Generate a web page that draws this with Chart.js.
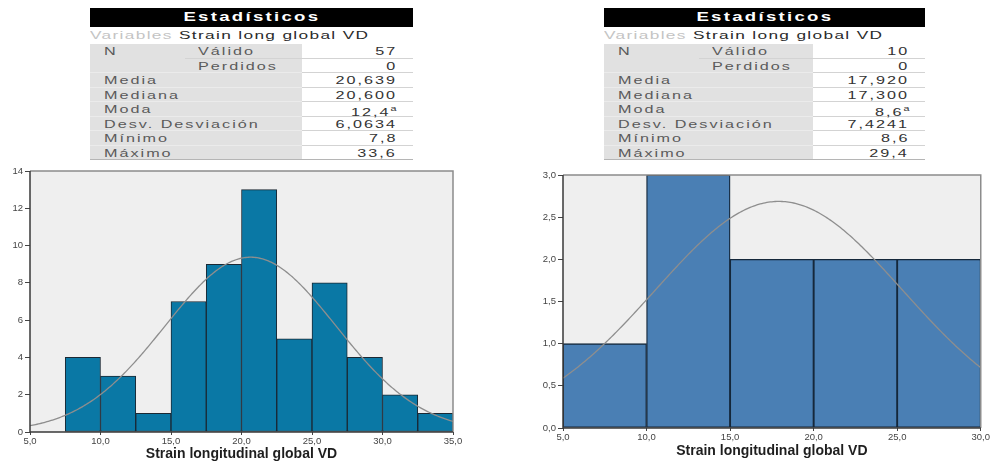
<!DOCTYPE html>
<html lang="es">
<head>
<meta charset="utf-8">
<script src="https://cdn.jsdelivr.net/npm/chart.js@4.4.1/dist/chart.umd.min.js"></script>
<style>
  html, body { margin: 0; padding: 0; background: #fff; }
  body { width: 991px; height: 463px; position: relative; overflow: hidden;
         font-family: "Liberation Sans", Arial, sans-serif; }
  .stats { position: absolute; top: 8px; }
  .stats .head { height: 18.5px; background: #000; color: #fff; font-weight: bold;
                 font-size: 13px; letter-spacing: 1.6px; text-align: center; line-height: 18.5px; }
  .stats .head span { display: inline-block; transform: scaleX(1.43); }
  .stats .var { height: 17.5px; line-height: 16px; font-size: 11.5px; letter-spacing: 0.9px;
                color: #2a2a2a; white-space: nowrap; }
  .stats .var > span { display: inline-block; transform: scaleX(1.5); transform-origin: 0 50%; }
  .stats .var i { font-style: normal; color: #c4c4c4; }
  .row { position: relative; height: 14.5px; }
  .row .g { position: absolute; left: 0; top: 0; bottom: 0; background: #e1e1e1; }
  .row .ln { position: absolute; right: 0; bottom: 0; height: 1px; background: #d3d3d3; }
  .row .lnl { position: absolute; left: 0; bottom: 0; height: 1px; background: #ebebeb; }
  .row.last .ln { height: 1.5px; background: #b5b5b5; }
  .row.last .lnl { height: 1.5px; background: #b5b5b5; }
  .t { position: absolute; top: 0; line-height: 14px; font-size: 10.5px; letter-spacing: 1.3px;
       white-space: nowrap; transform: scaleX(1.54); }
  .t.l { color: #5a5a5a; transform-origin: 0 50%; }
  .t.v { color: #333; transform-origin: 100% 50%; }
  .t sup { font-size: 7px; letter-spacing: 0; }
  canvas { position: absolute; }
</style>
</head>
<body>
<div class="stats" id="tblL" style="left:90px;width:323px"></div>
<div class="stats" id="tblR" style="left:604px;width:321px"></div>
<canvas id="histL" style="left:0;top:160px" width="470" height="303"></canvas>
<canvas id="histR" style="left:520px;top:160px" width="471" height="303"></canvas>
<script>
// Statistic rows shared by both summary tables
const statLabels = ['Media', 'Mediana', 'Moda', 'Desv. Desviación', 'Mínimo', 'Máximo'];

// Left group: 57 cases, bins of 2,5
const leftBinStarts = [7.5, 10, 12.5, 15, 17.5, 20, 22.5, 25, 27.5, 30, 32.5];
const leftCounts = [4, 3, 1, 7, 9, 13, 5, 8, 4, 2, 1];
const leftBinWidth = 2.5;
const leftN = [57, 0];
const leftStatText = ['20,639', '20,600', '12,4', '6,0634', '7,8', '33,6'];
const leftMean = 20.639, leftSd = 6.0634;
const leftXTicks = [5, 10, 15, 20, 25, 30, 35];
const leftYTicks = [0, 2, 4, 6, 8, 10, 12, 14];

// Right group: 10 cases, bins of 5
const rightBinStarts = [5, 10, 15, 20, 25];
const rightCounts = [1, 3, 2, 2, 2];
const rightBinWidth = 5;
const rightN = [10, 0];
const rightStatText = ['17,920', '17,300', '8,6', '7,4241', '8,6', '29,4'];
const rightMean = 17.92, rightSd = 7.4241;
const rightXTicks = [5, 10, 15, 20, 25, 30];
const rightYTicks = [0, 0.5, 1, 1.5, 2, 2.5, 3];

function buildTable(id, nVals, statText, gray, width) {
  const modeIdx = 2;
  const row = (labels, value, fullLine, last) => {
    let h = `<div class="row${last ? ' last' : ''}"><div class="g" style="width:${gray}px"></div>`;
    if (fullLine) h += `<div class="lnl" style="width:${gray}px"></div>`;
    h += `<div class="ln" style="width:${fullLine ? width - gray : width - 95}px"></div>`;
    labels.forEach(([txt, x]) => { h += `<span class="t l" style="left:${x}px">${txt}</span>`; });
    h += `<span class="t v" style="right:16px">${value}</span></div>`;
    return h;
  };
  let rows = '';
  rows += row([['N', 14], ['Válido', 108]], nVals[0], false, false);
  rows += row([['Perdidos', 108]], nVals[1], true, false);
  statLabels.forEach((l, i) => {
    const v = i === modeIdx ? statText[i] + '<sup>a</sup>' : statText[i];
    rows += row([[l, 14]], v, true, i === statLabels.length - 1);
  });
  document.getElementById(id).innerHTML =
    `<div class="head"><span>Estadísticos</span></div>
     <div class="var"><span><i>Variables</i> Strain long global VD</span></div>
     ${rows}`;
}
buildTable('tblL', leftN, leftStatText, 212, 323);
buildTable('tblR', rightN, rightStatText, 209, 321);

// Fitted normal density scaled to counts per bin
function normalCurve(mean, sd, n, binW, x0, x1) {
  const pts = [];
  const k = n * binW / (sd * Math.sqrt(2 * Math.PI));
  for (let x = x0; x <= x1 + 1e-9; x += 0.1) {
    const z = (x - mean) / sd;
    pts.push({x: x, y: k * Math.exp(-0.5 * z * z)});
  }
  return pts;
}

const plotFrame = {
  id: 'plotFrame',
  beforeDraw(chart) {
    const a = chart.chartArea, c = chart.ctx;
    c.save();
    c.fillStyle = '#efefef';
    c.fillRect(a.left, a.top, a.right - a.left, a.bottom - a.top);
    c.restore();
  },
  afterDatasetsDraw(chart) {
    const a = chart.chartArea, c = chart.ctx;
    c.save();
    c.lineWidth = 1.5;
    c.strokeStyle = '#8c8c8c';
    c.beginPath();
    c.moveTo(a.left, a.top); c.lineTo(a.right, a.top); c.lineTo(a.right, a.bottom);
    c.stroke();
    c.strokeStyle = '#3a3a3a';
    c.beginPath();
    c.moveTo(a.left, a.top); c.lineTo(a.left, a.bottom); c.lineTo(a.right, a.bottom);
    c.stroke();
    c.restore();
  }
};

const comma = (v, d) => Number(v).toFixed(d).replace('.', ',');

function makeHist(id, cfg) {
  const bars = cfg.starts.map((s, i) => ({x: s + cfg.binW / 2, y: cfg.counts[i]}));
  const xMin = cfg.xTicks[0], xMax = cfg.xTicks[cfg.xTicks.length - 1];
  const yMax = cfg.yTicks[cfg.yTicks.length - 1];
  new Chart(document.getElementById(id), {
    type: 'bar',
    data: {
      datasets: [
        {
          type: 'line',
          data: normalCurve(cfg.mean, cfg.sd, cfg.n, cfg.binW, xMin, xMax),
          borderColor: '#8e8e8e', borderWidth: 1.3, pointRadius: 0, tension: 0, order: 0
        },
        {
          type: 'bar',
          data: bars,
          backgroundColor: cfg.color, borderColor: cfg.edge, borderWidth: cfg.edgeW,
          borderSkipped: false, barPercentage: 1, categoryPercentage: 1, order: 1
        }
      ]
    },
    options: {
      responsive: false, animation: false,
      events: [],
      layout: {padding: cfg.pad},
      plugins: {legend: {display: false}, tooltip: {enabled: false}},
      scales: {
        x: {
          type: 'linear', min: xMin, max: xMax, offset: false,
          afterBuildTicks: s => { s.ticks = cfg.xTicks.map(v => ({value: v})); },
          afterFit: s => { s.height = cfg.xH; },
          ticks: {callback: v => comma(v, 1), color: '#444', font: {size: 9.5, family: 'Liberation Sans'},
                  padding: 1, maxRotation: 0, autoSkip: false},
          grid: {offset: false, drawOnChartArea: false, drawTicks: true, tickLength: 3, color: '#444'},
          border: {display: false},
          title: {display: true, text: 'Strain longitudinal global VD', color: '#1e1e1e',
                  font: {size: 14, weight: 'bold', family: 'Liberation Sans'},
                  padding: {top: 0, bottom: cfg.titleB}}
        },
        y: {
          min: 0, max: yMax,
          afterBuildTicks: s => { s.ticks = cfg.yTicks.map(v => ({value: v})); },
          afterFit: s => { s.width = cfg.yW; },
          ticks: {callback: v => cfg.yDec ? comma(v, 1) : String(v), color: '#444',
                  font: {size: 9.5, family: 'Liberation Sans'}, padding: 2},
          grid: {drawOnChartArea: false, drawTicks: true, tickLength: 5, color: '#444'},
          border: {display: false}
        }
      }
    },
    plugins: [plotFrame]
  });
}

makeHist('histL', {
  starts: leftBinStarts, counts: leftCounts, binW: leftBinWidth, n: leftN[0],
  mean: leftMean, sd: leftSd, xTicks: leftXTicks, yTicks: leftYTicks, yDec: false,
  color: '#0a78a5', edge: '#1b2833', edgeW: 1,
  pad: {top: 11, right: 17, left: 0, bottom: 0}, xH: 31, yW: 30, titleB: 0
});

makeHist('histR', {
  starts: rightBinStarts, counts: rightCounts, binW: rightBinWidth, n: rightN[0],
  mean: rightMean, sd: rightSd, xTicks: rightXTicks, yTicks: rightYTicks, yDec: true,
  color: '#4a7fb4', edge: '#14273a', edgeW: 1.3,
  pad: {top: 15, right: 8, left: 0, bottom: 0}, xH: 35, yW: 43, titleB: 3
});
</script>
</body>
</html>
